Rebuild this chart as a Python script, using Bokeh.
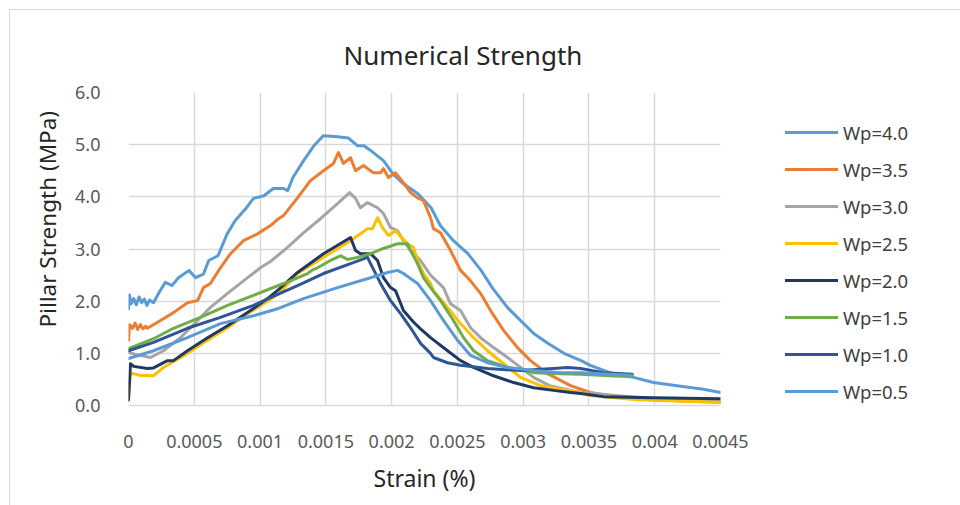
from bokeh.plotting import figure
from bokeh.layouts import row
from bokeh.models import Legend, LegendItem, FixedTicker, Title
from bokeh.embed import file_html
from bokeh.resources import INLINE

# ---- data: strain (%) vs pillar strength (MPa) for each width ratio ----
strain_40 = [0, 0.0000076, 0.00002, 0.00004, 0.00006, 0.00008, 0.0001, 0.00012, 0.00014, 0.00016,
             0.00019, 0.00024, 0.00028, 0.00033, 0.00038, 0.00046, 0.00051, 0.00057, 0.00061, 0.00068,
             0.00075, 0.00081, 0.00089, 0.00095, 0.00103, 0.0011, 0.00118, 0.00121, 0.00125, 0.00133,
             0.00141, 0.00148, 0.00159, 0.00167, 0.00174, 0.00179, 0.00184, 0.00194, 0.00201, 0.00209,
             0.0022, 0.0023, 0.00237, 0.00247, 0.00258, 0.00268, 0.00277, 0.00288, 0.00298, 0.00308,
             0.00319, 0.00331, 0.00344, 0.00351, 0.00366, 0.00384, 0.00399, 0.00417, 0.00437, 0.0045]
stress_40 = [1.85, 2.12, 1.95, 2.05, 1.93, 2.08, 1.97, 2.04, 1.92, 2.02,
             1.97, 2.2, 2.36, 2.3, 2.45, 2.59, 2.45, 2.52, 2.78, 2.87,
             3.29, 3.54, 3.77, 3.97, 4.02, 4.16, 4.16, 4.12, 4.37, 4.69,
             4.98, 5.17, 5.15, 5.13, 4.98, 4.98, 4.89, 4.69, 4.44, 4.25,
             4.06, 3.79, 3.45, 3.16, 2.91, 2.59, 2.24, 1.88, 1.63, 1.38,
             1.19, 1.0, 0.86, 0.77, 0.63, 0.54, 0.44, 0.38, 0.31, 0.25]

strain_35 = [0, 0.0000076, 0.00003, 0.00005, 0.00007, 0.00009, 0.00011, 0.00013, 0.000144, 0.000243,
             0.000342, 0.000448, 0.000525, 0.00057, 0.000623, 0.000699, 0.000775, 0.000874, 0.000981, 0.001079,
             0.00114, 0.001178, 0.001285, 0.001383, 0.001482, 0.001558, 0.001596, 0.001634, 0.001688, 0.001726,
             0.001786, 0.001862, 0.001916, 0.001938, 0.001976, 0.00203, 0.00209, 0.002144, 0.002197, 0.002242,
             0.002296, 0.002318, 0.002372, 0.002448, 0.002524, 0.0026, 0.002676, 0.002752, 0.002851, 0.002957,
             0.003056, 0.003185, 0.00336, 0.003512, 0.00374, 0.003991, 0.004249, 0.0045]
stress_35 = [1.25, 1.55, 1.48, 1.58, 1.46, 1.55, 1.47, 1.52, 1.48, 1.63,
             1.78, 1.97, 2.01, 2.26, 2.34, 2.64, 2.91, 3.16, 3.29, 3.45,
             3.58, 3.64, 3.98, 4.31, 4.5, 4.64, 4.85, 4.64, 4.75, 4.5,
             4.6, 4.46, 4.46, 4.54, 4.37, 4.46, 4.27, 4.08, 3.98, 3.93,
             3.6, 3.39, 3.31, 2.97, 2.59, 2.39, 2.15, 1.82, 1.44, 1.11,
             0.86, 0.61, 0.38, 0.25, 0.15, 0.11, 0.08, 0.06]

strain_30 = [0, 0.00005, 0.000167, 0.000266, 0.000395, 0.000525, 0.000623, 0.000753, 0.000874, 0.001003,
             0.001079, 0.001209, 0.00133, 0.001459, 0.001589, 0.00168, 0.001726, 0.001763, 0.001817, 0.001893,
             0.001938, 0.001992, 0.002045, 0.00209, 0.002144, 0.00222, 0.002296, 0.002394, 0.002448, 0.002524,
             0.0026, 0.002676, 0.002775, 0.002881, 0.00298, 0.003079, 0.0032, 0.0034, 0.0037, 0.004, 0.0045]
stress_30 = [1.02, 0.98, 0.92, 1.05, 1.3, 1.63, 1.88, 2.15, 2.39, 2.64,
             2.76, 3.03, 3.31, 3.58, 3.87, 4.08, 3.97, 3.79, 3.89, 3.79,
             3.68, 3.41, 3.35, 3.16, 2.97, 2.78, 2.5, 2.26, 1.95, 1.82,
             1.49, 1.3, 1.11, 0.92, 0.73, 0.54, 0.38, 0.27, 0.19, 0.13, 0.07]

strain_25 = [0, 0.000015, 0.000038, 0.00008, 0.00019, 0.000266, 0.000448, 0.000601, 0.000753, 0.000905,
             0.001057, 0.00114, 0.001285, 0.001482, 0.001688, 0.001817, 0.001855, 0.001893, 0.001931, 0.001976,
             0.00203, 0.002083, 0.002121, 0.002166, 0.002197, 0.002242, 0.002296, 0.002318, 0.002425, 0.002524,
             0.002623, 0.002729, 0.002851, 0.00298, 0.003132, 0.003284, 0.003436, 0.003512, 0.003869, 0.0045]
stress_25 = [0.15, 0.62, 0.61, 0.58, 0.57, 0.73, 1.0, 1.25, 1.49, 1.76,
             2.0, 2.14, 2.53, 2.84, 3.16, 3.39, 3.39, 3.6, 3.41, 3.26,
             3.35, 3.2, 3.1, 3.03, 2.78, 2.53, 2.34, 2.2, 1.88, 1.57,
             1.3, 1.05, 0.8, 0.54, 0.38, 0.31, 0.25, 0.19, 0.11, 0.06]

strain_20 = [0, 0.000015, 0.00004, 0.000144, 0.00019, 0.000296, 0.000342, 0.000448, 0.000601, 0.000753,
             0.00095, 0.001057, 0.00114, 0.001285, 0.001482, 0.001688, 0.001726, 0.001763, 0.00184, 0.001893,
             0.001938, 0.001992, 0.00203, 0.00209, 0.002166, 0.00222, 0.002296, 0.002425, 0.002524, 0.002623,
             0.002775, 0.002927, 0.003079, 0.003231, 0.00336, 0.003436, 0.003611, 0.003991, 0.0045]
stress_20 = [0.1, 0.8, 0.75, 0.71, 0.72, 0.86, 0.86, 1.05, 1.3, 1.53,
             1.86, 2.05, 2.22, 2.55, 2.91, 3.22, 2.97, 2.91, 2.91, 2.78,
             2.45, 2.26, 2.2, 1.82, 1.6, 1.47, 1.3, 1.05, 0.86, 0.73,
             0.57, 0.44, 0.34, 0.29, 0.25, 0.23, 0.17, 0.15, 0.13]

strain_15 = [0, 0.00019, 0.000342, 0.000547, 0.000753, 0.00095, 0.00114, 0.001231, 0.001361, 0.001399,
             0.001437, 0.001535, 0.001611, 0.001665, 0.001741, 0.00184, 0.001938, 0.002045, 0.002121, 0.002144,
             0.002197, 0.002242, 0.002296, 0.002372, 0.00247, 0.002547, 0.002623, 0.002729, 0.002881, 0.003079,
             0.003284, 0.003436, 0.00366, 0.00383]
stress_15 = [1.09, 1.28, 1.48, 1.69, 1.92, 2.11, 2.3, 2.39, 2.53, 2.6,
             2.64, 2.78, 2.87, 2.8, 2.84, 2.91, 3.01, 3.1, 3.1, 2.97,
             2.72, 2.45, 2.26, 2.01, 1.63, 1.3, 1.05, 0.86, 0.73, 0.63,
             0.61, 0.6, 0.57, 0.55]

strain_10 = [0, 0.00019, 0.000448, 0.000699, 0.00095, 0.001079, 0.001285, 0.001482, 0.001688, 0.001817,
             0.00184, 0.001916, 0.001992, 0.002068, 0.002144, 0.00222, 0.002296, 0.002318, 0.002425, 0.002524,
             0.002729, 0.00298, 0.003231, 0.003337, 0.003436, 0.003611, 0.00383]
stress_10 = [1.05, 1.21, 1.48, 1.69, 1.92, 2.07, 2.3, 2.53, 2.72, 2.84,
             2.72, 2.34, 2.01, 1.76, 1.49, 1.19, 1.0, 0.92, 0.82, 0.77,
             0.71, 0.67, 0.71, 0.73, 0.71, 0.63, 0.6]

strain_05 = [0, 0.00019, 0.000448, 0.000699, 0.00095, 0.00114, 0.00133, 0.001589, 0.00184, 0.001969,
             0.002045, 0.00209, 0.002197, 0.002296, 0.002394, 0.002501, 0.0026, 0.002729, 0.002881, 0.003079,
             0.003284, 0.003436, 0.00366, 0.00383]
stress_05 = [0.9, 1.05, 1.3, 1.57, 1.72, 1.86, 2.05, 2.26, 2.45, 2.55,
             2.59, 2.53, 2.34, 2.01, 1.63, 1.25, 0.96, 0.82, 0.73, 0.67,
             0.63, 0.63, 0.6, 0.58]

series_names = ["Wp=4.0", "Wp=3.5", "Wp=3.0", "Wp=2.5", "Wp=2.0", "Wp=1.5", "Wp=1.0", "Wp=0.5"]
series_colors = ["#5B9BD5", "#ED7D31", "#A5A5A5", "#FFC000", "#1F3864", "#70AD47", "#2F5597", "#5B9BD5"]
series_data = [(strain_40, stress_40), (strain_35, stress_35), (strain_30, stress_30),
               (strain_25, stress_25), (strain_20, stress_20), (strain_15, stress_15),
               (strain_10, stress_10), (strain_05, stress_05)]

x_ticks = [0, 0.0005, 0.001, 0.0015, 0.002, 0.0025, 0.003, 0.0035, 0.004, 0.0045]
x_tick_labels = ["0", "0.0005", "0.001", "0.0015", "0.002", "0.0025", "0.003", "0.0035", "0.004", "0.0045"]
y_ticks = [0, 1, 2, 3, 4, 5, 6]
y_tick_labels = ["0.0", "1.0", "2.0", "3.0", "4.0", "5.0", "6.0"]

FONT = "Noto Sans"
GRID = "#D9D9D9"

# ---- main chart ----
p = figure(width=740, height=495, output_backend="svg", toolbar_location=None,
           x_range=(0, 0.0045), y_range=(0, 6),
           min_border_left=118, min_border_right=30, min_border_top=82, min_border_bottom=100)
p.outline_line_color = None
p.background_fill_color = "white"
p.border_fill_color = "white"

title = Title(text="Numerical Strength", align="left", offset=215, standoff=40,
              text_font=FONT, text_font_size="26px", text_font_style="normal", text_color="#262626")
p.add_layout(title, "above")

p.xaxis.ticker = FixedTicker(ticks=x_ticks)
p.xaxis.major_label_overrides = dict(zip(x_ticks, x_tick_labels))
p.yaxis.ticker = FixedTicker(ticks=y_ticks)
p.yaxis.major_label_overrides = dict(zip(y_ticks, y_tick_labels))
for ax in (p.xaxis[0], p.yaxis[0]):
    ax.major_tick_line_color = None
    ax.major_tick_out = 0
    ax.major_tick_in = 0
    ax.minor_tick_line_color = None
    ax.minor_tick_out = 0
    ax.major_label_text_font = FONT
    ax.major_label_text_font_size = "18px"
    ax.major_label_text_color = "#595959"
    ax.axis_label_text_font = FONT
    ax.axis_label_text_font_style = "normal"
    ax.axis_label_text_color = "#262626"
p.xaxis.axis_label = "Strain (%)"
p.xaxis.axis_label_text_font_size = "23px"
p.xaxis.axis_line_color = GRID
p.xaxis.axis_line_width = 1.5
p.yaxis.axis_line_color = None
p.xaxis.major_label_standoff = 29
p.yaxis.major_label_standoff = 28
p.xaxis.axis_label_standoff = 11

# vertical axis title, set slightly above the plot-area centre
ytitle = Title(text="Pillar Strength (MPa)", align="left", offset=78, standoff=20,
               text_font=FONT, text_font_size="22.5px", text_font_style="normal", text_color="#262626")
p.add_layout(ytitle, "left")

p.xgrid.ticker = FixedTicker(ticks=x_ticks)
p.ygrid.ticker = FixedTicker(ticks=y_ticks)
p.grid.grid_line_color = GRID
p.grid.grid_line_width = 1.5

for color, (xs, ys) in zip(series_colors, series_data):
    p.line(xs, ys, line_color=color, line_width=3, line_join="round", line_cap="round")

# ---- legend panel on the right (its ranges keep the series out of view) ----
q = figure(width=210, height=495, output_backend="svg", toolbar_location=None,
           x_range=(0, 0.0045), y_range=(100, 101), min_border=0)
q.axis.visible = False
q.grid.visible = False
q.outline_line_color = None
q.background_fill_color = "white"
q.border_fill_color = "white"

items = []
for name, color, (xs, ys) in zip(series_names, series_colors, series_data):
    r = q.line(xs, ys, line_color=color, line_width=3, line_cap="round")
    items.append(LegendItem(label=name, renderers=[r]))

legend = Legend(items=items, location=(35, 1), margin=0, padding=0, spacing=11,
                glyph_width=53, glyph_height=26, label_height=26, label_standoff=5,
                label_text_font=FONT, label_text_font_size="18.5px", label_text_color="#404040",
                border_line_color=None, background_fill_alpha=0)
q.add_layout(legend)

layout = row(p, q)
layout.margin = (9, 0, 0, 9)
layout.styles = {"border-left": "1px solid #D9D9D9", "border-top": "1px solid #D9D9D9"}

open("out.html", "w").write(file_html(layout, INLINE))
